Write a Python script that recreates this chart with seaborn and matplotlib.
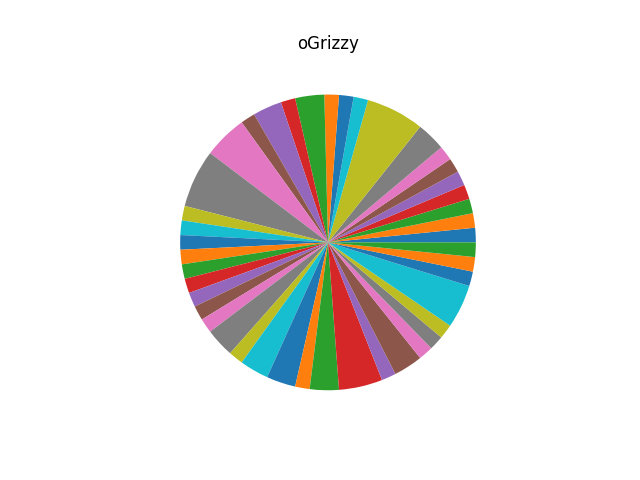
import matplotlib
matplotlib.use("Agg")
import matplotlib.pyplot as plt
import seaborn as sns

# slice sizes, counter-clockwise from 3 o'clock
sizes = [1, 1, 1, 1, 1, 1, 1, 2, 4, 1,
         1, 1, 2, 1, 2, 1, 3, 4, 1, 1,
         1, 1, 1, 1, 1, 1, 1, 2, 1, 2,
         2, 1, 2, 3, 1, 2, 1, 1, 1, 3,
         1, 1, 1]
title = "oGrizzy"

palette = sns.color_palette("tab10")
colors = [palette[i % len(palette)] for i in range(len(sizes))]

fig, ax = plt.subplots(figsize=(6.4, 4.8), dpi=100)
ax.pie(sizes, colors=colors)
ax.set_title(title)
fig.savefig("out.png", dpi=100)
plt.close(fig)
